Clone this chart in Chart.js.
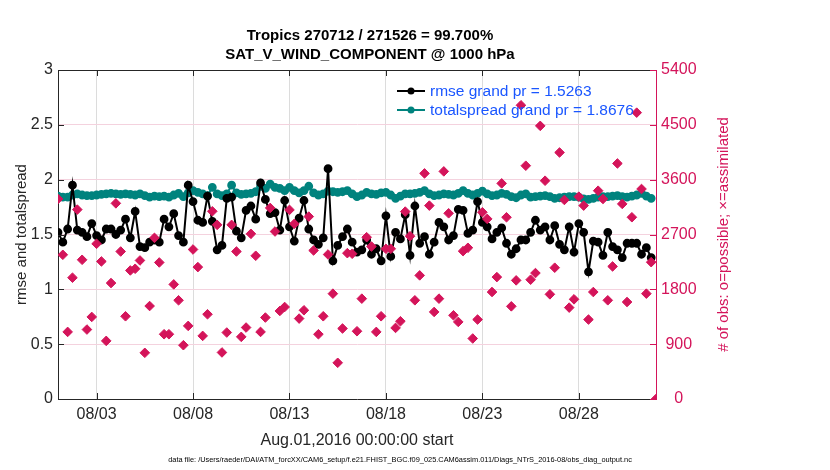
<!DOCTYPE html>
<html>
<head>
<meta charset="utf-8">
<script src="https://cdn.jsdelivr.net/npm/chart.js@4.4.1/dist/chart.umd.min.js"></script>
<style>
  html, body { margin: 0; padding: 0; background: #fff; }
  #wrap { width: 830px; height: 470px; position: relative; }
</style>
</head>
<body>
<div id="wrap"><canvas id="myChart" width="830" height="470"></canvas></div>
<script>
// rmse, 6-hourly from Aug.01 00:00
var rmse = [
  1.52, 1.43, 1.55, 1.95, 1.54, 1.52, 1.48, 1.60, 1.49, 1.45, 1.55, 1.55, 1.50, 1.54, 1.64, 1.47, 1.71, 1.39, 1.38, 1.43, 1.45, 1.43, 1.64, 1.57, 1.69, 1.49,
  1.43, 1.95, 1.80, 1.63, 1.61, 1.85, 1.62, 1.36, 1.40, 1.83, 1.84, 1.53, 1.47, 1.72, 1.76, 1.64, 1.97, 1.82, 1.69, 1.70, 1.54, 1.81, 1.57, 1.44, 1.65,
  1.81, 1.55, 1.45, 1.41, 1.47, 2.10, 1.26, 1.40, 1.48, 1.55, 1.43, 1.34, 1.36, 1.45, 1.32, 1.37, 1.26, 1.67, 1.30, 1.52, 1.46, 1.68, 1.31, 1.76, 1.42,
  1.48, 1.32, 1.43, 1.61, 1.57, 1.45, 1.49, 1.73, 1.72, 1.51, 1.54, 1.80, 1.61, 1.57, 1.46, 1.52, 1.56, 1.42, 1.32, 1.37, 1.45, 1.45, 1.52, 1.63, 1.54,
  1.57, 1.45, 1.58, 1.41, 1.36, 1.57, 1.34, 1.60, 1.52, 1.16, 1.44, 1.43, 1.31, 1.52, 1.39, 1.36, 1.29, 1.42, 1.42, 1.42, 1.32, 1.38, 1.29
];

// totalspread
var totalspread = [
  1.85, 1.84, 1.84, 1.86, 1.87, 1.86, 1.855, 1.855, 1.86, 1.865, 1.87, 1.875, 1.87, 1.865, 1.87, 1.865, 1.86, 1.87, 1.855, 1.84, 1.85, 1.845, 1.85, 1.84, 1.86, 1.875,
  1.845, 1.88, 1.90, 1.885, 1.87, 1.855, 1.93, 1.87, 1.855, 1.87, 1.95, 1.88, 1.865, 1.87, 1.875, 1.89, 1.94, 1.92, 1.96, 1.93, 1.92, 1.90, 1.93, 1.90, 1.88,
  1.90, 1.94, 1.88, 1.86, 1.87, 1.895, 1.89, 1.885, 1.89, 1.90, 1.87, 1.845, 1.86, 1.885, 1.87, 1.865, 1.88, 1.885, 1.86, 1.83, 1.85, 1.87, 1.87, 1.875, 1.885,
  1.90, 1.87, 1.855, 1.86, 1.87, 1.865, 1.86, 1.875, 1.90, 1.875, 1.86, 1.875, 1.895, 1.87, 1.855, 1.86, 1.875, 1.865, 1.845, 1.835, 1.86, 1.87, 1.84, 1.845, 1.85,
  1.855, 1.845, 1.83, 1.835, 1.84, 1.845, 1.845, 1.84, 1.825, 1.82, 1.83, 1.84, 1.845, 1.845, 1.85, 1.855, 1.845, 1.84, 1.85, 1.86, 1.875, 1.85, 1.83
];

// # of obs (right axis)
var nobs = [
  3283, 2367, 1101, 1991, 3109, 2285, 1140, 1347, 2547, 2258, 954, 1903, 3211, 2421, 1358, 2110, 2138, 2274, 758, 1526, 2645, 2241, 1063, 1063, 1881, 1620,
  883, 1200, 2454, 2165, 1036, 1391, 3081, 2858, 764, 1091, 2858, 2421, 1020, 1173, 2711, 2351, 1101, 1337, 3136, 2749, 1445, 1510, 3104, 2875, 1320,
  1456, 2994, 2438, 1063, 1358, 2372, 1729, 594, 1157, 2394, 2384, 1112, 1647, 2656, 2503, 1101, 1358, 2465, 2465, 1167, 1276, 3076, 2672, 1620, 2029,
  3703, 3174, 1429, 1647, 3736, 3048, 1374, 1265, 2427, 2482, 993, 1304, 3065, 2956, 1756, 2001, 3539, 2983, 1521, 1947, 4821, 3829, 1958, 2067, 4483,
  3583, 1718, 2155, 4046, 3267, 1500, 1636, 3321, 3174, 1304, 1756, 3419, 3283, 1620, 2176, 3866, 3202, 1592, 2983, 4700, 3447, 1729, 2246, 0
];

var xTickDays = [2, 7, 12, 17, 22, 27];
var xTickLabels = ['08/03', '08/08', '08/13', '08/18', '08/23', '08/28'];
var leftTicks = [0, 0.5, 1, 1.5, 2, 2.5, 3];
var leftTickLabels = ['0', '0.5', '1', '1.5', '2', '2.5', '3'];
var rightTicks = [0, 900, 1800, 2700, 3600, 4500, 5400];
var rightTickLabels = ['0', '900', '1800', '2700', '3600', '4500', '5400'];

var titleLines = ['Tropics 270712 / 271526 = 99.700%', 'SAT_V_WIND_COMPONENT @ 1000 hPa'];
var legendLabels = ['rmse grand pr = 1.5263', 'totalspread grand pr = 1.8676'];
var rightTitle = '# of obs: o=possible; \u00d7=assimilated';
var dataFileText = 'data file: /Users/raeder/DAI/ATM_forcXX/CAM6_setup/f.e21.FHIST_BGC.f09_025.CAM6assim.011/Diags_NTrS_2016-08/obs_diag_output.nc';

var BLACK = '#000000';
var TEAL = '#00837e';
var PINK = '#d4145a';
var AXIS = '#262626';
var FONT = "'Liberation Sans', Arial, Helvetica, sans-serif";

Chart.defaults.font.family = FONT;

// time in days since Aug.01 00:00 (6-hourly bins)
function toPoints(arr) {
    return arr.map(function(v, i) { return { x: i * 0.25, y: v }; });
}

// extra drawing: box, inward ticks, legend, right title, data file line
var extras = {
    id: 'extras',
    afterDatasetsDraw: function(chart) {
        var ctx = chart.ctx;
        var a = chart.chartArea;
        var xs = chart.scales.x, yl = chart.scales.y, yr = chart.scales.y1;
        ctx.save();
        ctx.lineWidth = 1;
        // top border
        ctx.strokeStyle = AXIS;
        ctx.beginPath();
        ctx.moveTo(a.left, a.top + 0.5);
        ctx.lineTo(a.right, a.top + 0.5);
        ctx.stroke();
        // inward ticks
        ctx.beginPath();
        xTickDays.forEach(function(d) {
            var px = Math.round(xs.getPixelForValue(d)) + 0.5;
            ctx.moveTo(px, a.bottom); ctx.lineTo(px, a.bottom - 6);
            ctx.moveTo(px, a.top); ctx.lineTo(px, a.top + 6);
        });
        leftTicks.forEach(function(v) {
            var py = Math.round(yl.getPixelForValue(v)) + 0.5;
            ctx.moveTo(a.left, py); ctx.lineTo(a.left + 6, py);
        });
        ctx.stroke();
        ctx.strokeStyle = PINK;
        ctx.beginPath();
        rightTicks.forEach(function(v) {
            var py = Math.round(yr.getPixelForValue(v)) + 0.5;
            ctx.moveTo(a.right, py); ctx.lineTo(a.right - 6, py);
        });
        ctx.stroke();

        // legend
        var lx = 397, ly = [91, 110];
        var cols = [BLACK, TEAL];
        ctx.font = '15.5px ' + FONT;
        ctx.textBaseline = 'middle';
        ctx.textAlign = 'left';
        for (var i = 0; i < 2; i++) {
            ctx.strokeStyle = cols[i];
            ctx.fillStyle = cols[i];
            ctx.lineWidth = 2;
            ctx.beginPath();
            ctx.moveTo(lx, ly[i]); ctx.lineTo(lx + 28, ly[i]);
            ctx.stroke();
            ctx.beginPath();
            ctx.arc(lx + 14, ly[i], 3.5, 0, Math.PI * 2);
            ctx.fill();
            ctx.fillStyle = '#1a56ff';
            ctx.fillText(legendLabels[i], lx + 33, ly[i] + 1);
        }

        // right axis title, reads bottom to top
        ctx.save();
        ctx.translate(724, (a.top + a.bottom) / 2);
        ctx.rotate(-Math.PI / 2);
        ctx.fillStyle = PINK;
        ctx.font = '15px ' + FONT;
        ctx.textAlign = 'center';
        ctx.fillText(rightTitle, 0, 0);
        ctx.restore();

        // data file line
        ctx.fillStyle = '#000';
        ctx.font = '7.4px ' + FONT;
        ctx.textAlign = 'center';
        ctx.fillText(dataFileText, 400, 460);
        ctx.restore();
    }
};

var ctx = document.getElementById('myChart').getContext('2d');
var myChart = new Chart(ctx, {
    type: 'line',
    data: {
        datasets: [
            {
                label: 'obs',
                data: toPoints(nobs),
                yAxisID: 'y1',
                showLine: false,
                pointStyle: 'rectRot',
                pointRadius: 4.8,
                pointBackgroundColor: PINK,
                pointBorderColor: PINK,
                pointBorderWidth: 1,
                order: 0
            },
            {
                label: legendLabels[0],
                data: toPoints(rmse),
                yAxisID: 'y',
                borderColor: BLACK,
                borderWidth: 2,
                pointRadius: 3.4,
                pointBackgroundColor: BLACK,
                pointBorderColor: BLACK,
                order: 1
            },
            {
                label: legendLabels[1],
                data: toPoints(totalspread),
                yAxisID: 'y',
                borderColor: TEAL,
                borderWidth: 2,
                pointRadius: 3.4,
                pointBackgroundColor: TEAL,
                pointBorderColor: TEAL,
                order: 2
            }
        ]
    },
    options: {
        responsive: false,
        animation: false,
        devicePixelRatio: 1,
        layout: { padding: { left: 0, right: 90, top: 0, bottom: 20 } },
        plugins: {
            legend: { display: false },
            tooltip: { enabled: false },
            title: {
                display: true,
                text: titleLines,
                color: '#000',
                font: { size: 15, weight: 'bold', lineHeight: 1.25 },
                padding: { top: 26.5, bottom: 6 }
            }
        },
        scales: {
            x: {
                type: 'linear',
                min: 0,
                max: 31,
                afterBuildTicks: function(scale) {
                    scale.ticks = xTickDays.map(function(v) { return { value: v }; });
                },
                afterFit: function(scale) { scale.height = 51; },
                ticks: {
                    color: AXIS,
                    font: { size: 16 },
                    padding: 6,
                    maxRotation: 0,
                    callback: function(value) { return xTickLabels[xTickDays.indexOf(value)]; }
                },
                grid: { color: '#dcdcdc', tickLength: 0 },
                border: { color: AXIS, width: 1 },
                title: {
                    display: true,
                    text: 'Aug.01,2016 00:00:00 start',
                    color: AXIS,
                    font: { size: 16 },
                    padding: { top: 1, bottom: 0 }
                }
            },
            y: {
                type: 'linear',
                position: 'left',
                min: 0,
                max: 3,
                afterBuildTicks: function(scale) {
                    scale.ticks = leftTicks.map(function(v) { return { value: v }; });
                },
                afterFit: function(scale) { scale.width = 58; },
                ticks: {
                    color: AXIS,
                    font: { size: 16 },
                    padding: 5,
                    callback: function(value) { return leftTickLabels[leftTicks.indexOf(value)]; }
                },
                grid: { color: '#f4d2de', tickLength: 0 },
                border: { color: AXIS, width: 1 },
                title: {
                    display: true,
                    text: 'rmse and totalspread',
                    color: AXIS,
                    font: { size: 15 },
                    padding: { top: 13, bottom: 0 }
                }
            },
            y1: {
                type: 'linear',
                position: 'right',
                min: 0,
                max: 5400,
                afterBuildTicks: function(scale) {
                    scale.ticks = rightTicks.map(function(v) { return { value: v }; });
                },
                afterFit: function(scale) { scale.width = 84; },
                ticks: {
                    color: PINK,
                    font: { size: 16 },
                    padding: 5,
                    crossAlign: 'center',
                    callback: function(value) { return rightTickLabels[rightTicks.indexOf(value)]; }
                },
                grid: { display: false, tickLength: 0 },
                border: { color: PINK, width: 1 }
            }
        }
    },
    plugins: [extras]
});
</script>
</body>
</html>
